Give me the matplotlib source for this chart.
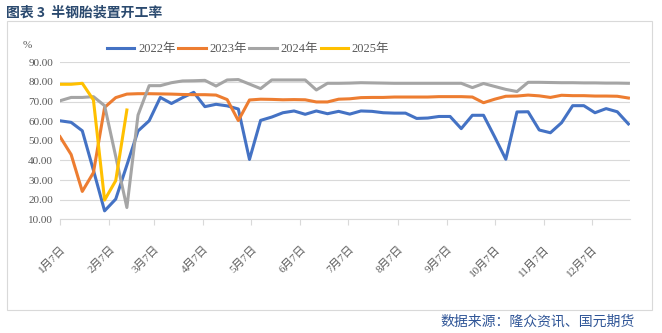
import numpy as np
import matplotlib
matplotlib.use("Agg")
import matplotlib.pyplot as plt
from matplotlib.patches import Rectangle

plt.rcParams['font.family'] = ['Liberation Serif', 'Noto Sans CJK SC', 'DejaVu Sans']

# weekly readings, first week on Jan 7
start = np.datetime64('2022-01-07')

rate_2022 = [60.2, 59.4, 55.1, 35.0, 14.3, 20.3, 37.6, 55.0, 60.2, 72.1,
             69.0, 72.0, 74.7, 67.4, 68.6, 67.8, 66.2, 40.5, 60.4, 62.1,
             64.3, 65.2, 63.5, 65.2, 63.8, 65.0, 63.6, 65.2, 65.0, 64.3,
             64.1, 64.1, 61.4, 61.6, 62.4, 62.4, 56.2, 63.0, 63.0, 52.0,
             40.6, 64.7, 64.8, 55.5, 54.1, 59.2, 67.9, 67.9, 64.3, 66.4,
             64.8, 58.6]
rate_2023 = [52.1, 43.0, 24.2, 33.8, 67.0, 72.0, 73.8, 74.0, 74.0, 73.9,
             73.8, 73.6, 73.5, 73.5, 73.3, 71.0, 60.3, 70.8, 71.2, 71.1,
             70.9, 71.0, 70.9, 69.8, 69.8, 71.2, 71.4, 72.0, 72.1, 72.1,
             72.3, 72.3, 72.3, 72.3, 72.5, 72.5, 72.5, 72.3, 69.4, 71.2,
             72.7, 72.8, 73.3, 72.9, 72.1, 73.2, 73.0, 73.0, 72.8, 72.8,
             72.7, 71.8]
rate_2024 = [70.4, 72.1, 72.1, 72.5, 67.9, 42.0, 16.0, 63.1, 78.1, 78.1,
             79.6, 80.5, 80.6, 80.8, 77.9, 81.0, 81.2, 78.9, 76.6, 81.0,
             81.0, 81.0, 81.0, 75.9, 79.3, 79.3, 79.4, 79.6, 79.5, 79.4,
             79.3, 79.3, 79.3, 79.3, 79.3, 79.3, 79.3, 77.1, 79.2, 77.7,
             76.2, 75.1, 79.8, 79.8, 79.7, 79.6, 79.6, 79.5, 79.5, 79.4,
             79.4, 79.3]
rate_2025 = [78.8, 78.8, 79.3, 70.8, 19.8, 29.7, 65.7]

series = [('2022年', rate_2022, '#4472C4'),
          ('2023年', rate_2023, '#ED7D31'),
          ('2024年', rate_2024, '#A5A5A5'),
          ('2025年', rate_2025, '#FFC000')]

months = list(range(1, 13))
month_ticks = [np.datetime64(f'2022-{m:02d}-07') for m in months]
month_labels = [f'{m}月7日' for m in months]

fig = plt.figure(figsize=(6.62, 3.33), dpi=100)
ax = fig.add_axes([60 / 662, 1 - 219.3 / 333, 570 / 662, 157 / 333])

for name, vals, color in series:
    dates = start + np.arange(len(vals)) * np.timedelta64(7, 'D')
    ax.plot(dates, vals, color=color, lw=2.2, label=name, solid_joinstyle='round')

ax.set_ylim(10, 90)
ax.set_yticks(np.arange(10, 91, 10))
ax.yaxis.set_major_formatter(plt.FormatStrFormatter('%.2f'))
ax.set_xlim(start, np.datetime64('2022-12-31'))
ax.set_xticks(month_ticks)
ax.set_xticklabels(month_labels, rotation=45, ha='right', va='top',
                   rotation_mode='anchor')

ax.grid(axis='y', color='#D9D9D9', lw=0.8)
ax.set_axisbelow(True)
for side in ['top', 'right', 'left']:
    ax.spines[side].set_visible(False)
ax.spines['bottom'].set_color('#D9D9D9')
ax.spines['bottom'].set_linewidth(0.8)
ax.tick_params(axis='y', length=0, pad=5, labelsize=8, labelcolor='#595959')
ax.tick_params(axis='x', length=4, width=0.8, color='#D9D9D9', pad=14,
               labelsize=8, labelcolor='#595959')

fig.text(27 / 662, 1 - 45 / 333, '%', fontsize=8, color='#595959',
         ha='center', va='center')

fig.legend(loc='center', bbox_to_anchor=(248 / 662, 1 - 49 / 333), ncol=4,
           frameon=False, fontsize=9, handlelength=2.2, handletextpad=0.3,
           columnspacing=0.2, labelcolor='#595959')

# outer frame around the chart
fig.patches.append(Rectangle((7 / 662, 1 - 310 / 333), 645 / 662, 289 / 333,
                             transform=fig.transFigure, fill=False,
                             edgecolor='#D9D9D9', lw=0.8))

fig.text(6 / 662, 1 - 12 / 333, '图表 3  半钢胎装置开工率', fontsize=10,
         family='Noto Sans CJK SC', weight='bold', color='#2B4A6F',
         ha='left', va='center')
fig.text(635 / 662, 1 - 321.5 / 333, '数据来源：隆众资讯、国元期货', fontsize=10,
         family='Noto Sans CJK SC', color='#2F5597', ha='right', va='center')

fig.savefig('out.png', dpi=100)
